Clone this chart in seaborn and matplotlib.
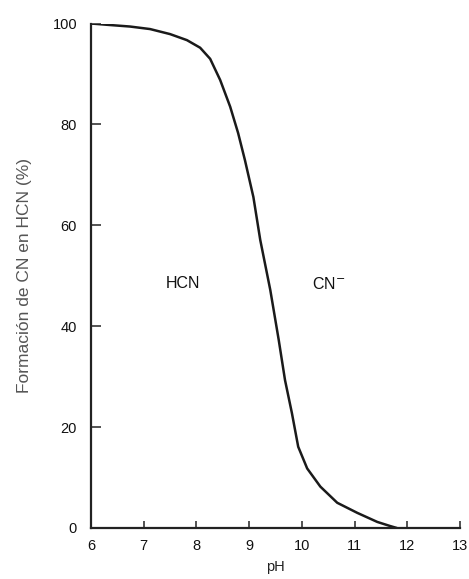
import matplotlib
matplotlib.use("Agg")
import matplotlib.pyplot as plt
import seaborn as sns
import pandas as pd

# Fraction of cyanide present as HCN versus pH
ph = [6.00, 6.36, 6.74, 7.12, 7.50, 7.82, 8.07, 8.26, 8.45, 8.64, 8.79,
      8.92, 9.08, 9.21, 9.40, 9.56, 9.68, 9.81, 9.93, 10.10, 10.35, 10.67,
      11.05, 11.43, 11.67, 11.80]
hcn_pct = [100.0, 99.7, 99.4, 98.9, 97.9, 96.7, 95.2, 93.0, 88.8, 83.5, 78.3,
           72.9, 65.6, 57.1, 47.2, 37.3, 29.3, 22.8, 16.1, 11.8, 8.2, 5.0,
           3.0, 1.2, 0.4, 0.0]

x_ticks = [6, 7, 8, 9, 10, 11, 12, 13]
y_ticks = [0, 20, 40, 60, 80, 100]

df = pd.DataFrame({"pH": ph, "HCN": hcn_pct})

sns.set_style("ticks")
plt.rcParams["font.family"] = ["Liberation Sans", "DejaVu Sans"]

fig = plt.figure(figsize=(4.69, 5.79), dpi=100)
ax = fig.add_axes([0.194, 0.0881, 0.787, 0.8713])

sns.lineplot(data=df, x="pH", y="HCN", ax=ax, color="#1a1a1a", linewidth=1.8)
ax.lines[0].set_solid_joinstyle("round")

ax.set_xlim(6, 13)
ax.set_ylim(0, 100)
ax.set_xticks(x_ticks)
ax.set_yticks(y_ticks)
ax.tick_params(axis="both", direction="in", width=1.3, colors="#444444",
               labelsize=10.5, labelcolor="#111111")
ax.tick_params(axis="y", length=7, pad=10)
ax.tick_params(axis="x", length=5, pad=8)

for side in ("top", "right"):
    ax.spines[side].set_visible(False)
for side in ("left", "bottom"):
    ax.spines[side].set_linewidth(1.6)
    ax.spines[side].set_color("#222222")

ax.set_xlabel("pH", fontsize=10.5, color="#222222")
ax.xaxis.set_label_coords(0.5, -0.064)
ax.set_ylabel("Formación de CN en HCN (%)", fontsize=12.5, color="#555555")
ax.yaxis.set_label_coords(-0.16, 0.5)

ax.text(7.75, 48.4, "HCN", fontsize=11.5, ha="center", va="center",
        color="#111111")
ax.text(10.5, 48.4, "CN$^{-}$", fontsize=11.5, ha="center", va="center",
        color="#111111")

fig.savefig("out.png", dpi=100)
